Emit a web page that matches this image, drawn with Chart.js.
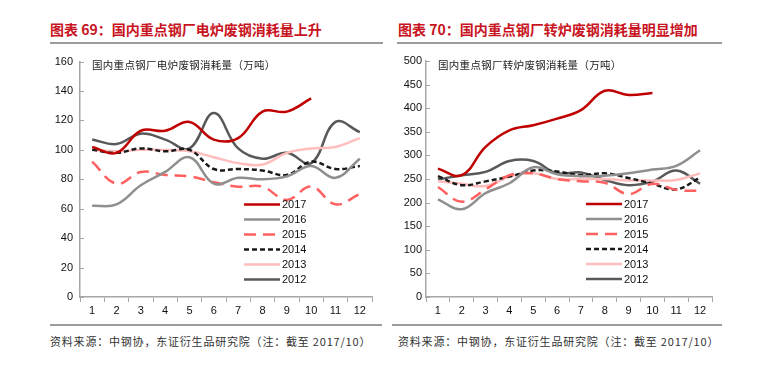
<!DOCTYPE html>
<html>
<head>
<meta charset="utf-8">
<script src="https://cdn.jsdelivr.net/npm/chart.js@4.4.1/dist/chart.umd.min.js"></script>
<style>
body { margin:0; width:768px; height:366px; background:#fff; position:relative; overflow:hidden; font-family:"Noto Sans CJK SC", sans-serif; }
.titulo { position:absolute; top:19px; font-size:14px; line-height:20px; font-weight:bold; color:#C8141E; white-space:nowrap; }
.raya { position:absolute; height:2px; background:#9c9c9c; }
.nota { position:absolute; top:333px; font-size:11px; line-height:16px; color:#333; white-space:nowrap; letter-spacing:0.8px; }
.eje { position:absolute; top:57px; font-size:10.5px; line-height:16px; color:#222; white-space:nowrap; letter-spacing:0.3px; }
.caja { position:absolute; top:48px; width:384px; height:274px; }
</style>
</head>
<body>
<div class="titulo" style="left:50px">图表 69：国内重点钢厂电炉废钢消耗量上升</div>
<div class="titulo" style="left:398px">图表 70：国内重点钢厂转炉废钢消耗量明显增加</div>
<div class="raya" style="left:50px; top:42px; width:333px"></div>
<div class="raya" style="left:397px; top:42px; width:325px"></div>

<div class="caja" style="left:0px"><canvas id="graficoEAF"></canvas></div>
<div class="caja" style="left:384px"><canvas id="graficoBOF"></canvas></div>

<div class="eje" style="left:92px">国内重点钢厂电炉废钢消耗量（万吨）</div>
<div class="eje" style="left:438px">国内重点钢厂转炉废钢消耗量（万吨）</div>

<div class="raya" style="left:50px; top:324px; width:332px; height:1.5px"></div>
<div class="raya" style="left:392px; top:324px; width:330px; height:1.5px"></div>
<div class="nota" style="left:50px">资料来源：中钢协，东证衍生品研究院（注：截至 2017/10）</div>
<div class="nota" style="left:398px">资料来源：中钢协，东证衍生品研究院（注：截至 2017/10）</div>

<script>
const meses = ['1', '2', '3', '4', '5', '6', '7', '8', '9', '10', '11', '12'];
const anios = ['2017', '2016', '2015', '2014', '2013', '2012'];

// 电炉 (万吨)
const eaf2017 = [102, 98, 113, 113, 119, 107, 108, 126, 126, 135];
const eaf2016 = [62, 63, 76, 85, 95, 77, 81, 80, 82, 89, 81, 94];
const eaf2015 = [92, 77, 85, 83, 82, 78, 75, 75, 66, 75, 63, 70];
const eaf2014 = [100, 98, 101, 99, 100, 87, 87, 86, 83, 92, 87, 89];
const eaf2013 = [100, 99, 100, 100, 99, 95, 91, 90, 98, 101, 102, 108];
const eaf2012 = [107, 104, 111, 107, 101, 125, 101, 94, 98, 91, 119, 112];
const eafTicks = { min: 0, max: 160, step: 20 };

// 转炉 (万吨)
const bof2017 = [272, 258, 318, 353, 364, 378, 396, 437, 428, 432];
const bof2016 = [207, 186, 220, 241, 275, 260, 256, 257, 262, 270, 278, 311];
const bof2015 = [233, 202, 228, 258, 262, 250, 245, 242, 218, 240, 227, 225];
const bof2014 = [256, 237, 245, 255, 268, 266, 258, 262, 252, 240, 228, 253];
const bof2013 = [245, 240, 235, 255, 262, 250, 250, 250, 247, 247, 248, 262];
const bof2012 = [249, 258, 265, 288, 288, 262, 264, 248, 237, 245, 268, 240];
const bofTicks = { min: 0, max: 500, step: 50 };

const estilos = [
    { color: '#C00000', dash: [] },
    { color: '#8F8F8F', dash: [] },
    { color: '#FF6161', dash: [12, 7] },
    { color: '#1A1A1A', dash: [5, 3] },
    { color: '#FFBDBD', dash: [] },
    { color: '#595959', dash: [] }
];

const colorEje = '#A6A6A6';
Chart.defaults.font.family = '"Liberation Sans", Arial, sans-serif';
Chart.defaults.font.size = 11;
Chart.defaults.color = '#111';

// leyenda dentro del área del gráfico
const leyendaLateral = {
    id: 'leyendaLateral',
    afterDatasetsDraw(chart, args, opts) {
        const ctx = chart.ctx;
        const area = chart.chartArea;
        ctx.save();
        chart.data.datasets.forEach(function (ds, i) {
            const x = area.left + opts.x;
            const y = area.top + opts.y + i * 15;
            ctx.beginPath();
            ctx.strokeStyle = ds.borderColor;
            ctx.lineWidth = ds.borderWidth;
            ctx.setLineDash(ds.borderDash);
            ctx.moveTo(x, y);
            ctx.lineTo(x + 36, y);
            ctx.stroke();
            ctx.setLineDash([]);
            ctx.fillStyle = '#111';
            ctx.font = '11px "Liberation Sans", Arial, sans-serif';
            ctx.textBaseline = 'middle';
            ctx.fillText(ds.label, x + 38, y + 0.5);
        });
        ctx.restore();
    }
};

// marcas cortas hacia dentro en el eje Y
const marcasY = {
    id: 'marcasY',
    afterDraw(chart) {
        const ctx = chart.ctx;
        const escala = chart.scales.y;
        const left = chart.chartArea.left;
        ctx.save();
        ctx.strokeStyle = colorEje;
        ctx.lineWidth = 1;
        escala.ticks.forEach(function (t) {
            const y = Math.round(escala.getPixelForValue(t.value)) + 0.5;
            ctx.beginPath();
            ctx.moveTo(left, y);
            ctx.lineTo(left + 4, y);
            ctx.stroke();
        });
        ctx.restore();
    }
};

function crearGrafico(id, series, rango, conf) {
    const ctx = document.getElementById(id).getContext('2d');
    const datasets = series.map(function (valores, i) {
        return {
            label: anios[i],
            data: valores,
            borderColor: estilos[i].color,
            borderDash: estilos[i].dash,
            borderWidth: 2.5,
            pointRadius: 0,
            tension: 0.4,
            fill: false
        };
    });

    return new Chart(ctx, {
        type: 'line',
        data: { labels: meses, datasets: datasets },
        options: {
            responsive: true,
            maintainAspectRatio: false,
            animation: false,
            layout: { padding: conf.padding },
            plugins: {
                legend: { display: false },
                tooltip: { enabled: false },
                leyendaLateral: conf.leyenda
            },
            scales: {
                x: {
                    offset: true,
                    afterFit: function (s) { s.height = 22; },
                    border: { color: colorEje, width: 1.5 },
                    grid: { offset: true, drawOnChartArea: false, drawTicks: true, tickLength: 5, color: colorEje },
                    ticks: { padding: 2, maxRotation: 0 }
                },
                y: {
                    min: rango.min,
                    max: rango.max,
                    afterFit: function (s) { s.width = conf.anchoY; },
                    border: { color: colorEje, width: 1.5 },
                    grid: { drawOnChartArea: false, drawTicks: false },
                    ticks: { stepSize: rango.step, padding: conf.padY }
                }
            }
        },
        plugins: [leyendaLateral, marcasY]
    });
}

crearGrafico('graficoEAF',
    [eaf2017, eaf2016, eaf2015, eaf2014, eaf2013, eaf2012],
    eafTicks,
    { padding: { left: 30, right: 12, top: 13, bottom: 3 }, anchoY: 50, padY: 7, leyenda: { x: 164, y: 143 } });

crearGrafico('graficoBOF',
    [bof2017, bof2016, bof2015, bof2014, bof2013, bof2012],
    bofTicks,
    { padding: { left: 4, right: 56, top: 13, bottom: 3 }, anchoY: 38, padY: 4, leyenda: { x: 160, y: 143 } });
</script>
</body>
</html>
